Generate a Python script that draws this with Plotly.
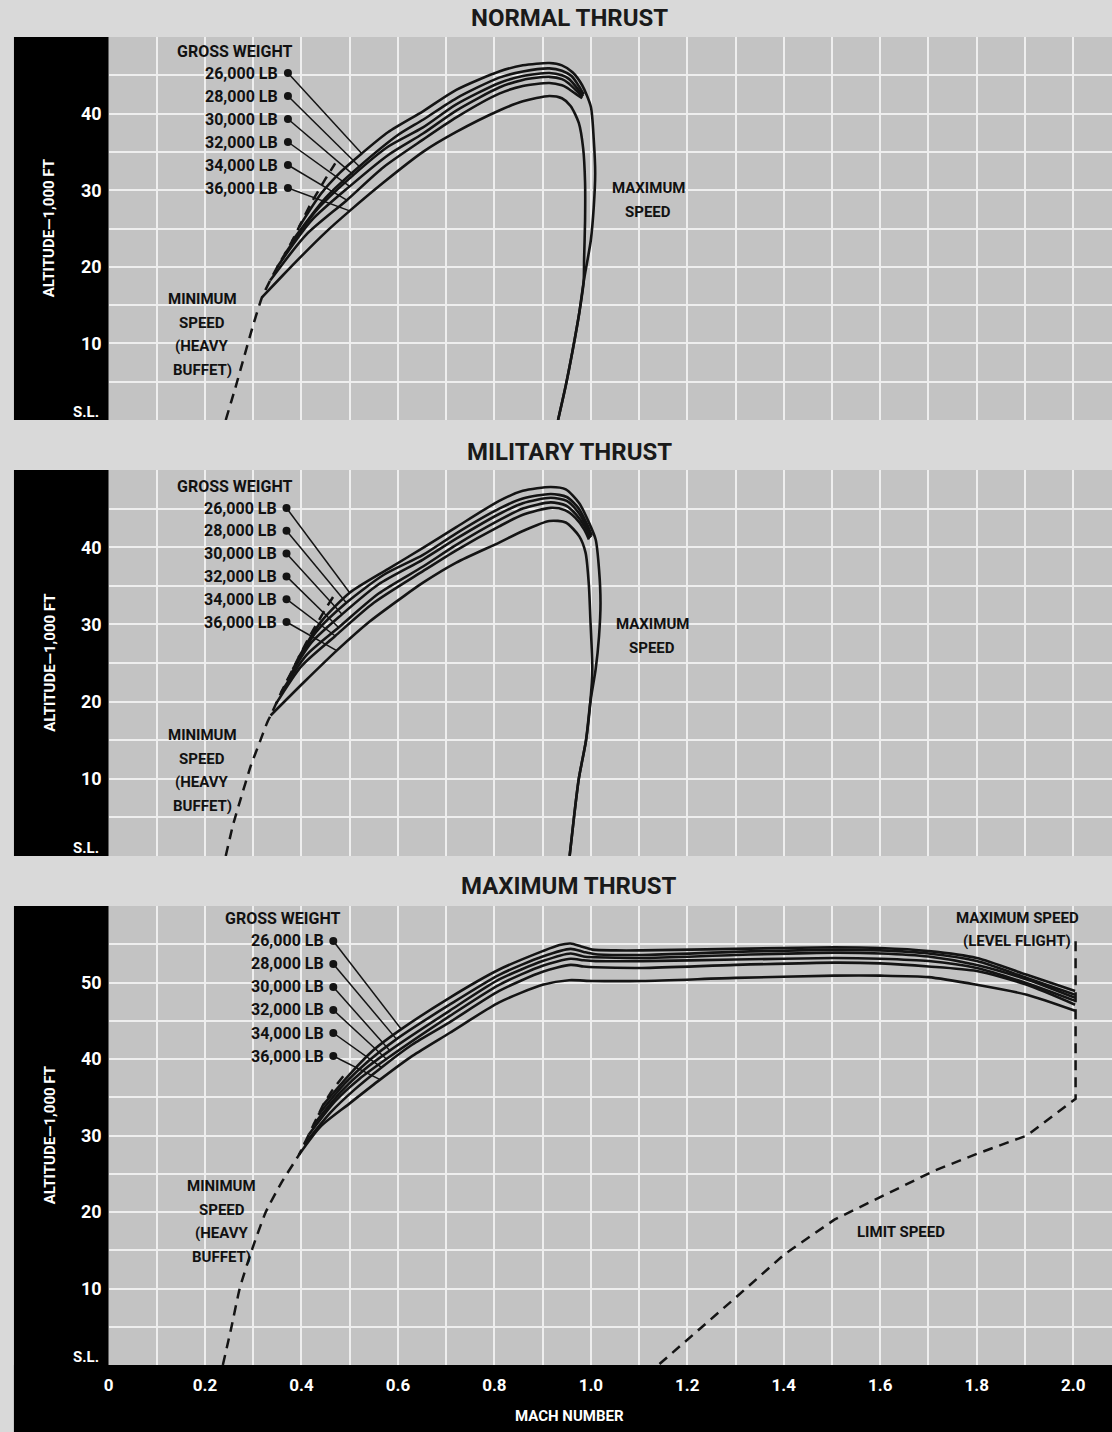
import numpy as np
import plotly.graph_objects as go

W, H = 1112, 1432
FONT = "Roboto, Liberation Sans, sans-serif"

weights = ["26,000 LB", "28,000 LB", "30,000 LB", "32,000 LB", "34,000 LB", "36,000 LB"]
mach_ticks = [0, 0.2, 0.4, 0.6, 0.8, 1.0, 1.2, 1.4, 1.6, 1.8, 2.0]
mach_ticktext = ["0", "0.2", "0.4", "0.6", "0.8", "1.0", "1.2", "1.4", "1.6", "1.8", "2.0"]

# ---------------- NORMAL THRUST ----------------
normal_mach = [
    [0.395, 0.44, 0.48, 0.525, 0.58, 0.652, 0.721, 0.81, 0.859, 0.914, 0.94, 0.962, 0.982, 1.0, 1.006, 1.009, 1.006, 1.0, 0.985],
    [0.38, 0.45, 0.52, 0.60, 0.652, 0.721, 0.81, 0.859, 0.914, 0.94, 0.96, 0.975, 0.985],
    [0.365, 0.43, 0.508, 0.58, 0.652, 0.721, 0.81, 0.859, 0.914, 0.94, 0.955, 0.972, 0.984],
    [0.35, 0.42, 0.50, 0.58, 0.652, 0.721, 0.81, 0.859, 0.914, 0.94, 0.953, 0.97, 0.983],
    [0.335, 0.41, 0.494, 0.57, 0.652, 0.721, 0.81, 0.859, 0.914, 0.94, 0.95, 0.968, 0.982],
    [0.318, 0.36, 0.40, 0.45, 0.50, 0.57, 0.652, 0.721, 0.81, 0.859, 0.914, 0.94, 0.958, 0.975, 0.984, 0.988, 0.988, 0.986, 0.985],
]
normal_alt = [
    [25.2, 29.5, 32.3, 34.8, 37.6, 40.3, 43.1, 45.5, 46.3, 46.6, 46.3, 45.4, 43.7, 40.9, 36.6, 32.2, 27.8, 23.5, 18.0],
    [23.3, 29.0, 33.1, 37.2, 39.2, 42.0, 44.7, 45.5, 45.9, 45.6, 44.9, 43.6, 42.5],
    [21.6, 27.3, 32.0, 35.7, 38.2, 41.2, 44.0, 44.9, 45.3, 45.0, 44.5, 43.3, 42.3],
    [20.0, 26.0, 30.5, 34.6, 37.4, 40.4, 43.4, 44.4, 44.8, 44.5, 44.0, 43.0, 42.2],
    [18.2, 24.2, 28.7, 33.0, 36.6, 39.5, 42.6, 43.6, 44.0, 43.7, 43.4, 42.6, 42.0],
    [16.0, 18.8, 21.4, 24.5, 27.3, 31.0, 35.0, 37.6, 40.4, 41.6, 42.3, 42.0, 41.0, 38.8, 35.5, 31.0, 26.0, 21.0, 18.0],
]
normal_tail_mach = [0.985, 0.976, 0.962, 0.948, 0.932]
normal_tail_alt = [18.0, 14.0, 9.0, 4.5, 0.0]
normal_min_mach = [0.243, 0.262, 0.28, 0.298, 0.318, 0.335, 0.35, 0.365, 0.38, 0.395, 0.42, 0.45, 0.47]
normal_min_alt = [0, 4, 8, 12, 16, 18.2, 20.0, 21.6, 23.3, 25.2, 28.3, 31.5, 33.5]
normal_leader_mach = [0.525, 0.52, 0.508, 0.50, 0.494, 0.50]

# ---------------- MILITARY THRUST ----------------
military_mach = [
    [0.394, 0.44, 0.50, 0.58, 0.652, 0.721, 0.81, 0.859, 0.917, 0.948, 0.976, 0.996, 1.01, 1.017, 1.02, 1.017, 1.01, 0.999],
    [0.382, 0.43, 0.493, 0.57, 0.652, 0.721, 0.81, 0.859, 0.917, 0.95, 0.975, 0.992, 1.002],
    [0.37, 0.42, 0.484, 0.56, 0.652, 0.721, 0.81, 0.859, 0.917, 0.95, 0.973, 0.99, 1.0],
    [0.358, 0.41, 0.477, 0.56, 0.652, 0.721, 0.81, 0.859, 0.917, 0.948, 0.97, 0.988, 0.998],
    [0.347, 0.40, 0.47, 0.55, 0.652, 0.721, 0.81, 0.859, 0.917, 0.946, 0.968, 0.986, 0.996],
    [0.336, 0.405, 0.473, 0.542, 0.611, 0.652, 0.721, 0.81, 0.859, 0.914, 0.948, 0.976, 0.989, 0.996, 0.999, 1.003, 0.999],
]
military_alt = [
    [25.7, 30.3, 34.1, 37.2, 39.9, 42.6, 46.0, 47.3, 47.8, 47.5, 45.7, 43.2, 41.0, 37.1, 32.8, 28.5, 24.2, 20.0],
    [24.2, 29.0, 32.8, 36.4, 39.0, 41.8, 45.0, 46.3, 46.9, 46.5, 45.0, 43.0, 41.5],
    [22.7, 27.6, 31.3, 35.2, 38.4, 41.1, 44.3, 45.7, 46.4, 46.0, 44.6, 42.8, 41.3],
    [21.2, 26.0, 29.6, 34.0, 37.5, 40.3, 43.5, 45.0, 45.8, 45.4, 44.2, 42.6, 41.2],
    [19.7, 24.6, 28.5, 32.8, 36.9, 39.6, 42.7, 44.2, 45.1, 44.8, 43.8, 42.3, 41.0],
    [18.2, 22.5, 26.6, 30.4, 33.6, 35.4, 38.0, 40.6, 42.1, 43.4, 43.2, 41.4, 39.3, 35.0, 30.7, 24.2, 20.0],
]
military_tail_mach = [0.999, 0.99, 0.975, 0.965, 0.956]
military_tail_alt = [20.0, 15.0, 10.0, 5.0, 0.0]
military_min_mach = [0.243, 0.258, 0.274, 0.295, 0.312, 0.329, 0.336, 0.347, 0.358, 0.37, 0.382, 0.394, 0.42, 0.45, 0.47]
military_min_alt = [0, 4, 7.4, 11.7, 14.5, 17.3, 18.2, 19.7, 21.2, 22.7, 24.2, 25.7, 28.8, 32.0, 34.0]
military_leader_mach = [0.50, 0.493, 0.484, 0.477, 0.47, 0.473]

# ---------------- MAXIMUM THRUST ----------------
maximum_mach = [
    [0.445, 0.50, 0.55, 0.607, 0.707, 0.81, 0.90, 0.935, 0.958, 0.98, 1.003, 1.05, 1.106, 1.3, 1.505, 1.6, 1.70, 1.80, 1.904, 2.004],
    [0.435, 0.49, 0.54, 0.597, 0.707, 0.81, 0.90, 0.958, 0.985, 1.01, 1.106, 1.3, 1.505, 1.6, 1.70, 1.80, 1.904, 2.004],
    [0.425, 0.48, 0.53, 0.583, 0.707, 0.81, 0.90, 0.958, 0.985, 1.01, 1.106, 1.3, 1.505, 1.6, 1.70, 1.80, 1.904, 2.004],
    [0.415, 0.47, 0.52, 0.576, 0.707, 0.81, 0.90, 0.958, 0.985, 1.01, 1.106, 1.3, 1.505, 1.6, 1.70, 1.80, 1.904, 2.004],
    [0.405, 0.46, 0.51, 0.566, 0.63, 0.707, 0.81, 0.90, 0.958, 0.985, 1.01, 1.106, 1.3, 1.505, 1.6, 1.70, 1.80, 1.904, 2.004],
    [0.395, 0.44, 0.50, 0.563, 0.63, 0.707, 0.81, 0.90, 0.955, 1.003, 1.106, 1.3, 1.505, 1.6, 1.70, 1.80, 1.904, 2.004],
]
maximum_alt = [
    [34.0, 38.0, 41.2, 43.9, 48.0, 51.7, 54.1, 54.9, 55.1, 54.7, 54.3, 54.2, 54.2, 54.4, 54.6, 54.5, 54.1, 53.2, 51.0, 48.9],
    [32.7, 36.8, 39.8, 42.6, 47.1, 51.0, 53.4, 54.4, 54.0, 53.7, 53.6, 54.0, 54.3, 54.2, 53.8, 52.8, 50.6, 48.4],
    [31.4, 35.6, 38.6, 41.1, 46.3, 50.4, 52.8, 53.8, 53.4, 53.3, 53.2, 53.6, 53.9, 53.8, 53.4, 52.3, 50.4, 48.0],
    [30.1, 34.5, 37.4, 40.0, 45.6, 49.7, 52.2, 53.1, 52.9, 52.8, 52.8, 53.0, 53.2, 53.1, 52.8, 51.9, 49.9, 47.6],
    [28.8, 33.0, 36.0, 38.9, 41.9, 44.8, 48.9, 51.4, 52.3, 52.1, 52.0, 51.9, 52.3, 52.6, 52.5, 52.1, 51.5, 49.7, 47.1],
    [27.5, 31.2, 34.2, 37.3, 40.4, 43.4, 47.4, 49.7, 50.3, 50.2, 50.2, 50.6, 50.9, 50.9, 50.7, 49.7, 48.4, 46.3],
]
maximum_min_mach = [0.237, 0.255, 0.272, 0.297, 0.326, 0.36, 0.395, 0.405, 0.415, 0.425, 0.435, 0.445, 0.465, 0.49]
maximum_min_alt = [0, 5, 10, 15, 20, 24, 27.5, 28.8, 30.1, 31.4, 32.7, 34.0, 36.0, 38.0]
maximum_limit_mach = [2.005, 2.005, 1.904, 1.80, 1.712, 1.60, 1.505, 1.402, 1.30, 1.14]
maximum_limit_alt = [55.4, 34.8, 30.0, 27.6, 25.4, 21.9, 19.0, 14.5, 8.8, 0.0]
maximum_leader_mach = [0.607, 0.597, 0.583, 0.576, 0.566, 0.563]

# ------------------------------------------------------------
# panel layout in pixels (top, bottom) and altitude range
panels = [
    dict(title="NORMAL THRUST", px=(37, 420), top=50, ticks=[10, 20, 30, 40],
         mach=normal_mach, alt=normal_alt, tail=(normal_tail_mach, normal_tail_alt),
         mn=(normal_min_mach, normal_min_alt), leader=normal_leader_mach,
         dot_x=0.372, gw_x=0.386, lab_row=(73, 23), min_x=0.194, min_y=299, max_txt=(646, 188), title_y=18),
    dict(title="MILITARY THRUST", px=(470, 856), top=50, ticks=[10, 20, 30, 40],
         mach=military_mach, alt=military_alt, tail=(military_tail_mach, military_tail_alt),
         mn=(military_min_mach, military_min_alt), leader=military_leader_mach,
         dot_x=0.369, gw_x=0.386, lab_row=(508, 22.8), min_x=0.194, min_y=735, max_txt=(650, 624), title_y=452),
    dict(title="MAXIMUM THRUST", px=(906, 1365), top=60, ticks=[10, 20, 30, 40, 50],
         mach=maximum_mach, alt=maximum_alt, tail=None,
         mn=(maximum_min_mach, maximum_min_alt), leader=maximum_leader_mach,
         dot_x=0.466, gw_x=0.487, lab_row=(941, 23), min_x=0.235, min_y=1186, max_txt=None, title_y=886),
]

X0 = 104
XSCALE = 484.5
XMAX = (W - X0) / XSCALE

fig = go.Figure()
annotations = []
shapes = []
LINE = "#141414"
TXT = "#111111"
GRID = "#eeeeee"


def txtfont(size, color=TXT):
    return dict(family=FONT, size=size, color=color, weight="bold")


def px_to_alt(p, py):
    t, b = p["px"]
    return (b - py) / (b - t) * p["top"]


def px_to_mach(px):
    return (px - X0) / XSCALE


for i, p in enumerate(panels):
    n = "" if i == 0 else str(i + 1)
    xa, ya = "x" + n, "y" + n
    t, b = p["px"]

    # curves
    for j in range(6):
        m = list(p["mach"][j])
        a = list(p["alt"][j])
        if p["tail"] is not None and j in (0, 5):
            m += p["tail"][0][1:]
            a += p["tail"][1][1:]
        fig.add_trace(go.Scatter(x=m, y=a, xaxis=xa, yaxis=ya, mode="lines",
                                 line=dict(color=LINE, width=2.6, shape="spline", smoothing=0.7),
                                 showlegend=False, hoverinfo="skip"))
        # leader line
        k = int(np.argmax(p["alt"][j])) + 1
        lm = p["leader"][j]
        la = float(np.interp(lm, p["mach"][j][:k], p["alt"][j][:k]))
        row_py = p["lab_row"][0] + j * p["lab_row"][1]
        dy = px_to_alt(p, row_py)
        fig.add_trace(go.Scatter(x=[p["dot_x"], lm], y=[dy, la], xaxis=xa, yaxis=ya, mode="lines",
                                 line=dict(color=LINE, width=1.5), showlegend=False, hoverinfo="skip"))
        fig.add_trace(go.Scatter(x=[p["dot_x"]], y=[dy], xaxis=xa, yaxis=ya, mode="markers",
                                 marker=dict(color=LINE, size=8), showlegend=False, hoverinfo="skip"))
        annotations.append(dict(x=p["dot_x"] - 0.016, y=dy, xref=xa, yref=ya, text=weights[j],
                                xanchor="right", yanchor="middle", showarrow=False, font=txtfont(16)))

    annotations.append(dict(x=p["gw_x"], y=px_to_alt(p, p["lab_row"][0] - 22), xref=xa, yref=ya,
                            text="GROSS WEIGHT", xanchor="right", yanchor="middle", showarrow=False,
                            font=txtfont(16)))

    # minimum speed dashed line
    fig.add_trace(go.Scatter(x=p["mn"][0], y=p["mn"][1], xaxis=xa, yaxis=ya, mode="lines",
                             line=dict(color=LINE, width=2.5, dash="10px,7px", shape="spline", smoothing=0.5),
                             showlegend=False, hoverinfo="skip"))
    for r, txt in enumerate(["MINIMUM", "SPEED", "(HEAVY", "BUFFET)"]):
        annotations.append(dict(x=p["min_x"], y=px_to_alt(p, p["min_y"] + r * 23.5), xref=xa, yref=ya,
                                text=txt, xanchor="center", yanchor="middle", showarrow=False,
                                font=txtfont(15)))

    if p["max_txt"] is not None:
        mx, my = p["max_txt"]
        for r, txt in enumerate(["MAXIMUM", "SPEED"]):
            annotations.append(dict(x=px_to_mach(mx), y=px_to_alt(p, my + r * 23.5), xref=xa, yref=ya,
                                    text=txt, xanchor="center", yanchor="middle", showarrow=False,
                                    font=txtfont(15)))

    # title
    annotations.append(dict(x=567 / W, y=1 - p["title_y"] / H, xref="paper", yref="paper",
                            text=p["title"], xanchor="center", yanchor="middle", showarrow=False,
                            font=txtfont(24, "#1a1a1a")))

    # y-axis title in black strip
    annotations.append(dict(x=45 / W, y=1 - (t + b) / 2 / H, xref="paper", yref="paper",
                            text="ALTITUDE\u20141,000 FT", textangle=-90, xanchor="center", yanchor="middle",
                            showarrow=False, font=txtfont(15, "white")))
    # sea level label
    annotations.append(dict(x=0, y=0, xref=xa, yref=ya, text="S.L.", xanchor="right", yanchor="bottom",
                            xshift=-8, yshift=-3, showarrow=False, font=txtfont(15, "white")))

    # black strip
    sb = H if i == 2 else b
    shapes.append(dict(type="rect", xref="paper", yref="paper", x0=9 / W, x1=X0 / W,
                       y0=1 - sb / H, y1=1 - t / H, fillcolor="black", line=dict(width=0), layer="below"))

    ticktext = [str(v) for v in p["ticks"]]
    fig.update_layout(**{
        "xaxis" + n: dict(domain=[X0 / W, 1], range=[0, XMAX], anchor=ya,
                          tickvals=mach_ticks, ticktext=mach_ticktext, showticklabels=(i == 2),
                          showgrid=True, gridcolor=GRID, gridwidth=2, zeroline=False, ticks="",
                          showline=False, ticklabelstandoff=8,
                          minor=dict(dtick=0.1, tick0=0, showgrid=True, gridcolor=GRID, gridwidth=2),
                          tickfont=txtfont(17, "white"), fixedrange=True),
        "yaxis" + n: dict(domain=[1 - b / H, 1 - t / H], range=[0, p["top"]], anchor=xa,
                          tickvals=p["ticks"], ticktext=ticktext, showgrid=True, gridcolor=GRID,
                          gridwidth=2, zeroline=False, ticks="", showline=False, ticklabelstandoff=6,
                          minor=dict(dtick=5, tick0=0, showgrid=True, gridcolor=GRID, gridwidth=2),
                          tickfont=txtfont(18, "white"), fixedrange=True),
    })

# maximum thrust extras
fig.add_trace(go.Scatter(x=maximum_limit_mach, y=maximum_limit_alt, xaxis="x3", yaxis="y3", mode="lines",
                         line=dict(color=LINE, width=2.5, dash="10px,7px"), showlegend=False, hoverinfo="skip"))
for txt, px_, py_ in [("MAXIMUM SPEED", 1017, 918), ("(LEVEL FLIGHT)", 1017, 941), ("LIMIT SPEED", 900, 1232)]:
    annotations.append(dict(x=px_to_mach(px_), y=px_to_alt(panels[2], py_), xref="x3", yref="y3", text=txt,
                            xanchor="center", yanchor="middle", showarrow=False, font=txtfont(15)))

# bottom black strip + axis title
shapes.append(dict(type="rect", xref="paper", yref="paper", x0=9 / W, x1=1, y0=0, y1=1 - 1365 / H,
                   fillcolor="black", line=dict(width=0), layer="below"))
annotations.append(dict(x=567 / W, y=1 - 1416 / H, xref="paper", yref="paper", text="MACH NUMBER",
                        xanchor="center", yanchor="middle", showarrow=False, font=txtfont(15, "white")))

fig.update_layout(width=W, height=H, margin=dict(l=0, r=0, t=0, b=0),
                  paper_bgcolor="#d9d9d9", plot_bgcolor="#c3c3c3",
                  annotations=annotations, shapes=shapes, showlegend=False)

fig.write_html("out.html", config={"displayModeBar": False},
               post_script="document.body.style.margin='0px';")
